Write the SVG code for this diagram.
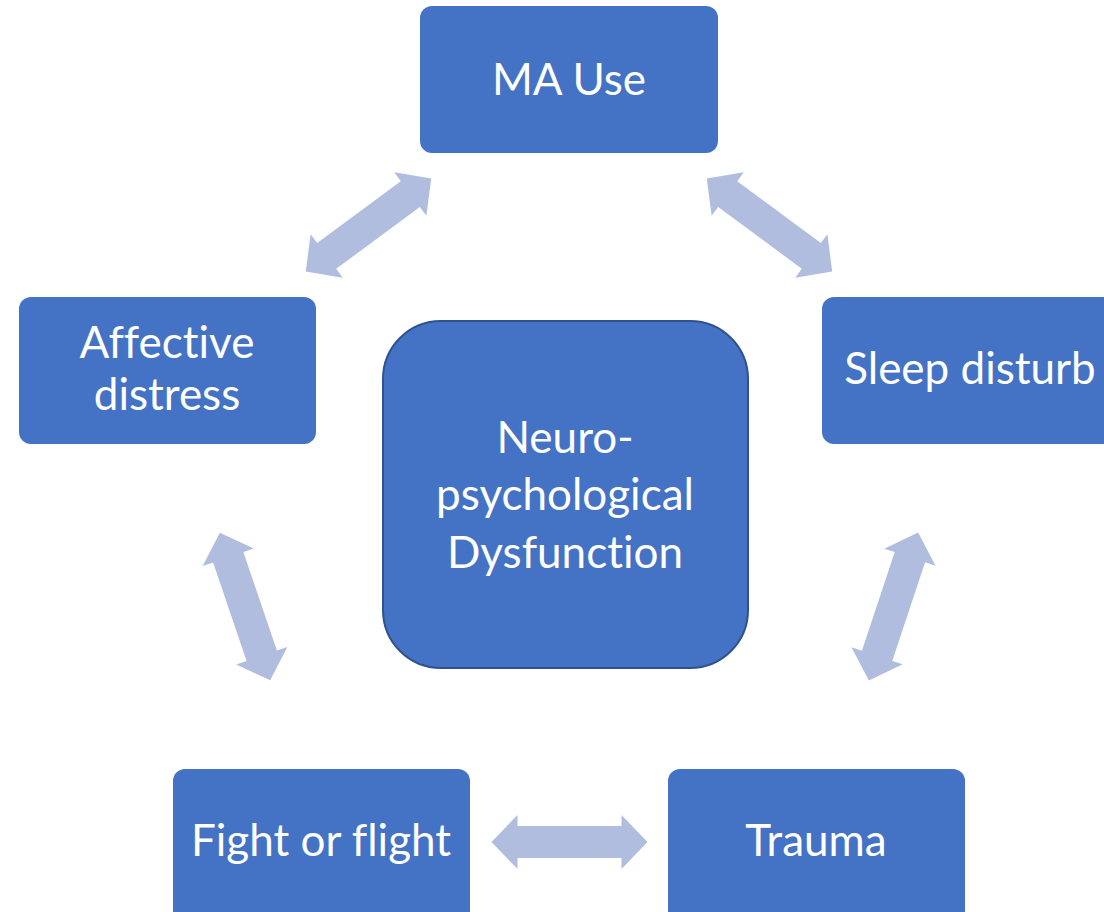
<svg xmlns="http://www.w3.org/2000/svg" width="1104" height="912" viewBox="0 0 1104 912">
  <defs>
    <style>
      .box { fill: #4472C4; }
      .center { fill: #4472C4; stroke: #2F528F; stroke-width: 2; }
      .lbl { fill: #FFFFFF; font-family: Lato, "Open Sans", "Liberation Sans", sans-serif; font-size: 44px; text-anchor: middle; font-variant-ligatures: none; }
      .arr { fill: #B0BDDF; }
    </style>
    <path id="dbl" d="M -78,0 L -52,-27 L -52,-16 L 52,-16 L 52,-27 L 78,0 L 52,27 L 52,16 L -52,16 L -52,27 Z"/>
  </defs>
  <rect width="1104" height="912" fill="#FFFFFF"/>
  <g id="connectors" class="arr">
    <use href="#dbl" transform="translate(368.5,225) rotate(-36.5)"/>
    <use href="#dbl" transform="translate(769.5,225) rotate(36.5)"/>
    <use href="#dbl" transform="translate(245,606.5) rotate(71.2)"/>
    <use href="#dbl" transform="translate(893.5,606.5) rotate(108.4)"/>
    <use href="#dbl" transform="translate(569.5,842)"/>
  </g>
  <g id="ma-use">
    <rect class="box" x="420" y="6" width="298" height="147" rx="12"/>
    <text class="lbl" x="569" y="95">MA Use</text>
  </g>
  <g id="affective-distress">
    <rect class="box" x="19" y="297" width="297" height="147" rx="12"/>
    <text class="lbl" x="167" y="358">Affective</text>
    <text class="lbl" x="167" y="410">distress</text>
  </g>
  <g id="sleep-disturb">
    <rect class="box" x="822" y="297" width="297" height="147" rx="12"/>
    <text class="lbl" x="970" y="384">Sleep disturb</text>
  </g>
  <g id="neuro">
    <rect class="center" x="383" y="321" width="365" height="347" rx="58"/>
    <text class="lbl" x="565" y="453">Neuro-</text>
    <text class="lbl" x="565" y="510">psychological</text>
    <text class="lbl" x="565" y="568">Dysfunction</text>
  </g>
  <g id="fight-or-flight">
    <rect class="box" x="173" y="769" width="297" height="160" rx="12"/>
    <text class="lbl" x="321" y="856">Fight or flight</text>
  </g>
  <g id="trauma">
    <rect class="box" x="668" y="769" width="297" height="160" rx="12"/>
    <text class="lbl" x="816" y="856">Trauma</text>
  </g>
</svg>
